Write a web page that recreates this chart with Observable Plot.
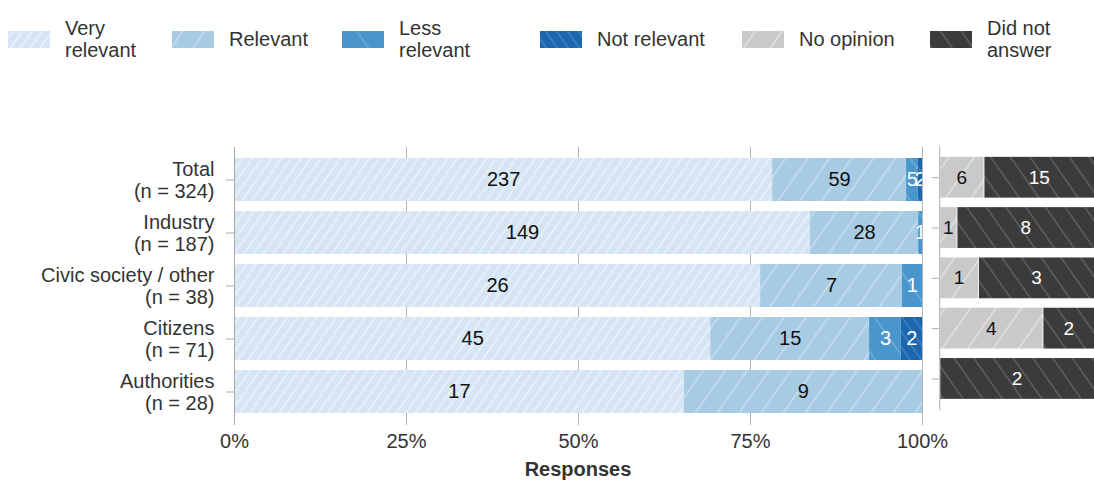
<!DOCTYPE html>
<html><head><meta charset="utf-8">
<script src="https://cdn.jsdelivr.net/npm/d3@7"></script>
<script src="https://cdn.jsdelivr.net/npm/@observablehq/plot@0.6"></script>
<style>
html,body{margin:0;padding:0;background:#fff;overflow:hidden;}
#wrap{position:relative;width:1094px;height:483px;overflow:hidden;font-family:"Liberation Sans",Arial,sans-serif;color:#333;}
.item{position:absolute;top:0;height:78px;display:flex;align-items:center;}
.item svg{margin-right:15px;flex:none;}
.item .t{font-size:20px;line-height:22px;color:#333;white-space:nowrap;}
.panel{position:absolute;top:135px;}
#xlabel{position:absolute;left:234px;width:688px;top:457px;text-align:center;font-weight:bold;font-size:20px;line-height:24px;color:#333;}
</style></head><body>
<svg width="0" height="0" style="position:absolute"><defs id="defs"></defs></svg>
<div id="wrap">
  <div id="legend"></div>
  <div id="left" class="panel" style="left:0px"></div>
  <div id="right" class="panel" style="left:926px"></div>
  <div id="xlabel">Responses</div>
</div>
<script>
// ---- data ----
const categories = ["Total", "Industry", "Civic society / other", "Citizens", "Authorities"];
const nValues = [324, 187, 38, 71, 28];
const veryRelevant = [237, 149, 26, 45, 17];
const relevant = [59, 28, 7, 15, 9];
const lessRelevant = [5, 1, 1, 3, 0];
const notRelevant = [2, 0, 0, 2, 0];
const noOpinion = [6, 1, 1, 4, 0];
const didNotAnswer = [15, 8, 3, 2, 2];
const xTicks = [0, 0.25, 0.5, 0.75, 1];
const legendLabels = ["Very\nrelevant", "Relevant", "Less\nrelevant", "Not relevant", "No opinion", "Did not\nanswer"];

// ---- styles ----
const leftKeys = ["Very relevant", "Relevant", "Less relevant", "Not relevant"];
const rightKeys = ["No opinion", "Did not answer"];
const patterns = {
  "Very relevant":  {id: "p-vr",  base: "#d5e5f3", line: "rgba(255,255,255,0.6)",  w: 8,  angle: 35},
  "Relevant":       {id: "p-r",   base: "#a6cbe3", line: "rgba(255,255,255,0.45)", w: 18, angle: 35},
  "Less relevant":  {id: "p-lr",  base: "#4896cb", line: "rgba(255,255,255,0.25)", w: 24, angle: -35},
  "Not relevant":   {id: "p-nr",  base: "#1c66ae", line: "rgba(255,255,255,0.2)",  w: 9,  angle: -35},
  "No opinion":     {id: "p-no",  base: "#c9c9c9", line: "rgba(255,255,255,0.55)", w: 22, angle: 35},
  "Did not answer": {id: "p-dna", base: "#3b3b3b", line: "rgba(255,255,255,0.22)", w: 17, angle: -35}
};
const darkKeys = new Set(["Less relevant", "Not relevant", "Did not answer"]);
const legendLefts = [8, 172, 342, 540, 742, 930];

// pattern defs
const defs = document.getElementById("defs");
defs.innerHTML = Object.values(patterns).map(p =>
  `<pattern id="${p.id}" patternUnits="userSpaceOnUse" width="${p.w}" height="${p.w}" patternTransform="rotate(${p.angle})">
     <rect width="${p.w}" height="${p.w}" fill="${p.base}"/>
     <line x1="${p.w/2}" y1="0" x2="${p.w/2}" y2="${p.w}" stroke="${p.line}" stroke-width="1.3"/>
   </pattern>`).join("");

// legend
const allKeys = leftKeys.concat(rightKeys);
const legend = document.getElementById("legend");
allKeys.forEach((k, i) => {
  const div = document.createElement("div");
  div.className = "item";
  div.style.left = legendLefts[i] + "px";
  div.innerHTML = `<svg width="42" height="17"><rect width="42" height="17" fill="url(#${patterns[k].id})"/></svg><div class="t">${legendLabels[i].replace("\n", "<br>")}</div>`;
  legend.appendChild(div);
});

// tidy rows
const leftSeries = [veryRelevant, relevant, lessRelevant, notRelevant];
const rightSeries = [noOpinion, didNotAnswer];
const leftRows = [], rightRows = [];
categories.forEach((c, i) => {
  leftKeys.forEach((k, j) => leftRows.push({category: c, key: k, count: leftSeries[j][i]}));
  rightKeys.forEach((k, j) => rightRows.push({category: c, key: k, count: rightSeries[j][i]}));
});
const nByCat = new Map(categories.map((c, i) => [c, nValues[i]]));

const font = "'Liberation Sans', Arial, sans-serif";
const common = {
  height: 330, marginTop: 12, marginBottom: 40,
  style: {fontFamily: font, fontSize: "20px", color: "#333", background: "transparent", overflow: "visible"},
  y: {domain: categories, padding: 0.187}
};
const labelText = d => d.count > 0 ? String(d.count) : "";
const labelFill = d => darkKeys.has(d.key) ? "white" : "#111";

const left = Plot.plot({
  ...common,
  width: 926, marginLeft: 234, marginRight: 4,
  x: {domain: [0, 1]},
  color: {type: "ordinal", domain: leftKeys, range: leftKeys.map(k => `url(#${patterns[k].id})`)},
  marks: [
    Plot.gridX({ticks: xTicks, stroke: "#b5b5b5", strokeOpacity: 1}),
    Plot.barX(leftRows, Plot.stackX({offset: "normalize", x: "count", y: "category", fill: "key"})),
    Plot.ruleX([0], {stroke: "#aaa"}),
    Plot.axisY({tickSize: 8, tickPadding: 12, stroke: "#aaa", fill: "#333", fontSize: 20, lineHeight: 1.1,
      tickFormat: d => `${d}\n(n = ${nByCat.get(d)})`, label: null}),
    Plot.axisX({ticks: xTicks, tickSize: 0, tickPadding: 8, tickFormat: d3.format(".0%"), fontSize: 20, fill: "#333", label: null}),
    Plot.text(leftRows, Plot.stackX({offset: "normalize", x: "count", y: "category", text: labelText, fill: labelFill, fontSize: 20, clip: true}))
  ]
});
document.getElementById("left").appendChild(left);

const right = Plot.plot({
  ...common,
  width: 177, marginLeft: 14, marginRight: 0,
  x: {domain: [0, 1], axis: null},
  color: {type: "ordinal", domain: rightKeys, range: rightKeys.map(k => `url(#${patterns[k].id})`)},
  marks: [
    Plot.barX(rightRows, Plot.stackX({offset: "normalize", x: "count", y: "category", fill: "key", insetLeft: 1})),
    Plot.ruleX([0], {stroke: "#aaa"}),
    Plot.axisY({tickSize: 8, stroke: "#aaa", tickFormat: () => "", label: null}),
    Plot.text(rightRows, Plot.stackX({offset: "normalize", x: "count", y: "category", text: labelText, fill: labelFill, fontSize: 20}))
  ]
});
document.getElementById("right").appendChild(right);
</script>
</body></html>
